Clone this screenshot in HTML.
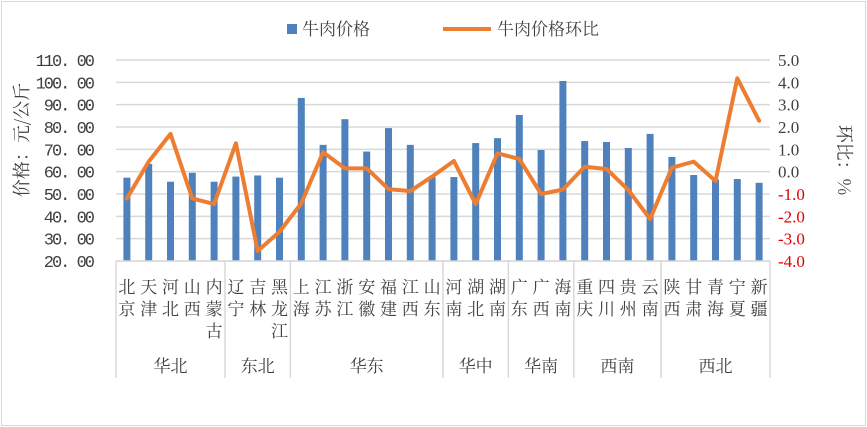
<!DOCTYPE html>
<html><head><meta charset="utf-8"><style>
html,body{margin:0;padding:0;background:#fff;}
svg{display:block;font-family:"Liberation Serif","Noto Serif CJK SC",serif;}
</style></head><body>
<svg id="chart" width="867" height="427" viewBox="0 0 867 427" xmlns="http://www.w3.org/2000/svg">
<rect x="1.5" y="1.5" width="864" height="424" fill="#fff" stroke="#d9d9d9" stroke-width="1"/>
<g id="grid"></g><g id="bars"></g><g id="line"></g><g id="axes"></g>
<g>
<rect x="287" y="24" width="10" height="10" fill="#4f81bd"/>
<text x="302" y="35" font-size="17" font-family="Noto Serif CJK SC,serif" fill="#404040">牛肉价格</text>
<line x1="443" y1="29" x2="491" y2="29" stroke="#ed7d31" stroke-width="4"/>
<text x="497" y="35" font-size="17" font-family="Noto Serif CJK SC,serif" fill="#404040">牛肉价格环比</text>
</g>
<text transform="translate(28,140) rotate(-90)" text-anchor="middle" font-size="18" font-family="Noto Serif CJK SC,serif" fill="#404040">价格：元/公斤</text>
<text transform="translate(838,160) rotate(90)" text-anchor="middle" font-size="18" font-family="Noto Serif CJK SC,serif" fill="#404040">环比：%</text>
</svg>
<script>
const provinces=["北京","天津","河北","山西","内蒙古","辽宁","吉林","黑龙江","上海","江苏","浙江","安徽","福建","江西","山东","河南","湖北","湖南","广东","广西","海南","重庆","四川","贵州","云南","陕西","甘肃","青海","宁夏","新疆"];
const regions=["华北","东北","华东","华中","华南","西南","西北"];
const regionSizes=[5,3,7,3,3,4,5];
const prices=[57.3,63.5,55.5,59.5,55.5,57.8,58.3,57.3,93.0,72.0,83.5,69.0,79.5,72.0,57.5,57.6,72.8,75.0,85.4,69.7,100.6,73.7,73.3,70.6,76.9,66.6,58.5,56.5,56.7,55.0];
const ratios=[-1.2,0.45,1.69,-1.2,-1.45,1.27,-3.55,-2.69,-1.42,0.87,0.15,0.15,-0.78,-0.87,-0.22,0.48,-1.45,0.82,0.57,-1.0,-0.8,0.22,0.12,-0.82,-2.12,0.18,0.45,-0.42,4.18,2.28];
const leftTicks=[20,30,40,50,60,70,80,90,100,110];
const rightTicks=[-4,-3,-2,-1,0,1,2,3,4,5];
const NS="http://www.w3.org/2000/svg";
const X0=116,X1=770,YT=60,YB=261;
const n=provinces.length, cw=(X1-X0)/n;
const xC=i=>X0+cw*(i+0.5);
const yL=v=>YB-(v-20)/90*(YB-YT);
const yR=v=>YB-(v+4)/9*(YB-YT);
function mk(tag,attrs,parent){const e=document.createElementNS(NS,tag);for(const k in attrs)e.setAttribute(k,attrs[k]);parent.appendChild(e);return e;}
const grid=document.getElementById('grid'),bars=document.getElementById('bars'),lineG=document.getElementById('line'),axes=document.getElementById('axes');
leftTicks.forEach(t=>{
 const g=mk('line',{x1:X0,x2:X1,y1:yL(t),y2:yL(t),stroke:'#d9d9d9','stroke-width':1.5},grid);
 
 
 const tx=mk('text',{x:93,y:yL(t)+6,'text-anchor':'end','font-size':17,fill:'#404040','font-family':'Liberation Mono,monospace','letter-spacing':'-2'},axes);
 tx.textContent=t.toFixed(0)+". 00";
 
 
});
rightTicks.forEach(t=>{
 const tx=mk('text',{x:778,y:yR(t)+6,'font-size':17,fill:t<0?'#e00000':'#404040','font-family':'Liberation Serif,serif'},axes);
 tx.textContent=t.toFixed(1);
 
 
});
prices.forEach((v,i)=>{
 const b=mk('rect',{x:xC(i)-3.5,y:yL(v),width:7,height:YB-yL(v),fill:'#4f81bd'},bars);
 
 
});
const pl=mk('polyline',{points:ratios.map((v,i)=>xC(i)+','+yR(v)).join(' '),fill:'none',stroke:'#ed7d31','stroke-width':4,'stroke-linejoin':'round','stroke-linecap':'round'},lineG);


const ax=mk('line',{x1:X0,x2:X1,y1:YB,y2:YB,stroke:'#d9d9d9','stroke-width':1.5},axes);


provinces.forEach((p,i)=>{
 [...p].forEach((ch,k)=>{
  const t=mk('text',{x:xC(i),y:293+k*22,'text-anchor':'middle','font-size':17,fill:'#404040','font-family':'Noto Serif CJK SC,serif'},axes);
  t.textContent=ch;
  
  
 });
});
let start=0;
const b0=mk('line',{x1:X0,x2:X0,y1:YB,y2:378,stroke:'#d9d9d9','stroke-width':1.5},axes);


regions.forEach((r,j)=>{
 const end=start+regionSizes[j];
 const xe=X0+cw*end;
 const d=mk('line',{x1:xe,x2:xe,y1:YB,y2:378,stroke:'#d9d9d9','stroke-width':1.5},axes);
 
 
 const t=mk('text',{x:X0+cw*(start+end)/2,y:372,'text-anchor':'middle','font-size':17,fill:'#404040','font-family':'Noto Serif CJK SC,serif'},axes);
 t.textContent=r;
 
 
 start=end;
});
</script>
</body></html>
